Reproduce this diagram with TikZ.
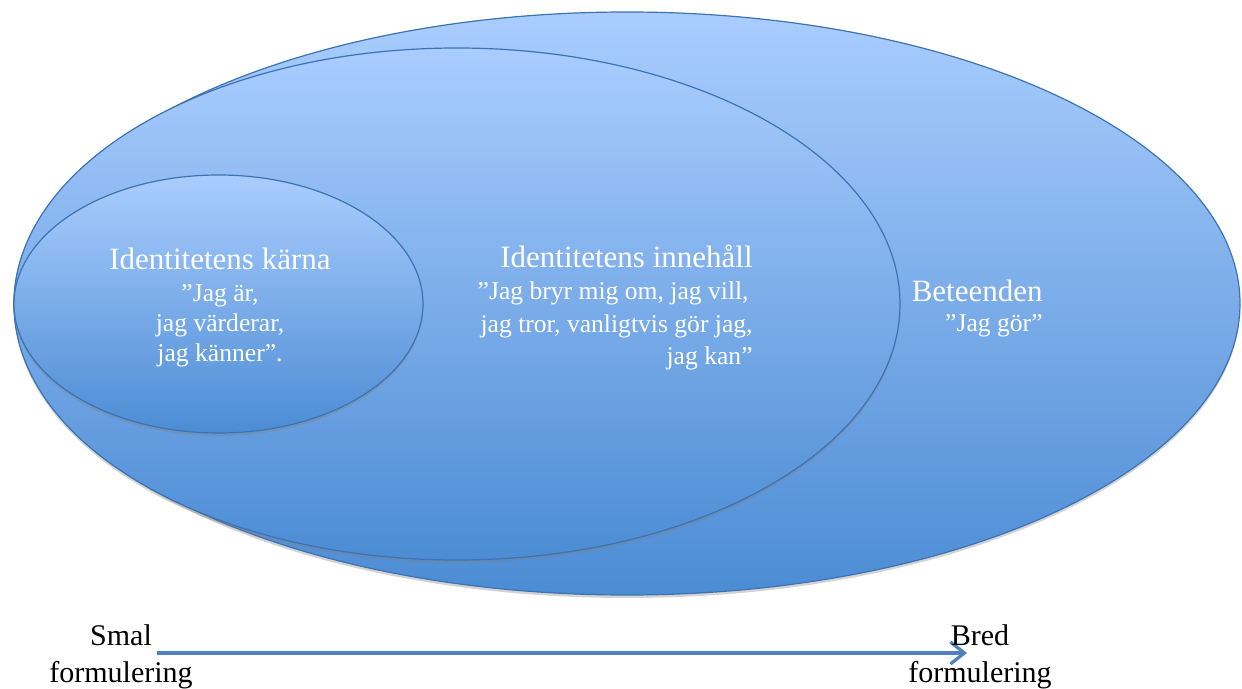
\documentclass[tikz,border=0pt]{standalone}
\usepackage{fontspec}
\setmainfont{Liberation Serif}
\usetikzlibrary{shapes.geometric,shadows,arrows.meta}
\definecolor{ljus}{RGB}{170,205,254}
\definecolor{mork}{RGB}{76,140,212}
\definecolor{kant}{RGB}{60,115,178}
\definecolor{pil}{RGB}{79,129,189}
\newcommand\rubrik{\fontsize{15.5}{16}\selectfont}
\newcommand\citat{\fontsize{12.8}{16}\selectfont}
\tikzset{
  oval/.style={ellipse, draw=kant, line width=.6pt, top color=ljus, bottom color=mork,
    inner sep=0pt, drop shadow={shadow xshift=0pt, shadow yshift=-1.5pt, opacity=.35}},
  vit/.style={text=white, inner sep=0pt},
  svart/.style={text=black, inner sep=0pt, align=center, font=\fontsize{15}{18.5}\selectfont}
}
\begin{document}
\begin{tikzpicture}[x=.5pt,y=-.5pt]
\useasboundingbox (0,0) rectangle (1242,689);
% ellipserna
\node[oval, minimum width=613pt, minimum height=291.5pt] (beteenden) at (627,303.5) {};
\node[oval, minimum width=443pt, minimum height=256pt] (innehall) at (457,304) {};
\node[oval, minimum width=204.5pt, minimum height=129pt] (karna) at (218.5,304) {};
% texterna
\node[vit, anchor=base] (t1) at (220,270) {\rubrik Identitetens kärna};
\node[vit, anchor=base] (c1a) at (220,302) {\citat ”Jag är,};
\node[vit, anchor=base] (c1b) at (220,332) {\citat jag värderar,};
\node[vit, anchor=base] (c1c) at (220,362) {\citat jag känner”.};
\node[vit, anchor=base east] (t2) at (753,268) {\rubrik Identitetens innehåll};
\node[vit, anchor=base east] (c2a) at (749,300) {\citat ”Jag bryr mig om, jag vill,};
\node[vit, anchor=base east] (c2b) at (753,333) {\citat jag tror, vanligtvis gör jag,};
\node[vit, anchor=base east] (c2c) at (753,365) {\citat jag kan”};
\node[vit, anchor=base east] (t3) at (1043,302) {\rubrik Beteenden};
\node[vit, anchor=base east] (c3) at (1043,332) {\citat ”Jag gör”};
% pilen
\coordinate (fran) at (157,653);
\coordinate (till) at (967,653);
\draw[pil, line width=1.6pt, -{Straight Barb[length=7pt,width=11pt]}] (fran) -- (till);
\node[svart] (smal) at (121,657) {Smal\\formulering};
\node[svart] (bred) at (980,657) {Bred\\formulering};
\end{tikzpicture}
\end{document}
